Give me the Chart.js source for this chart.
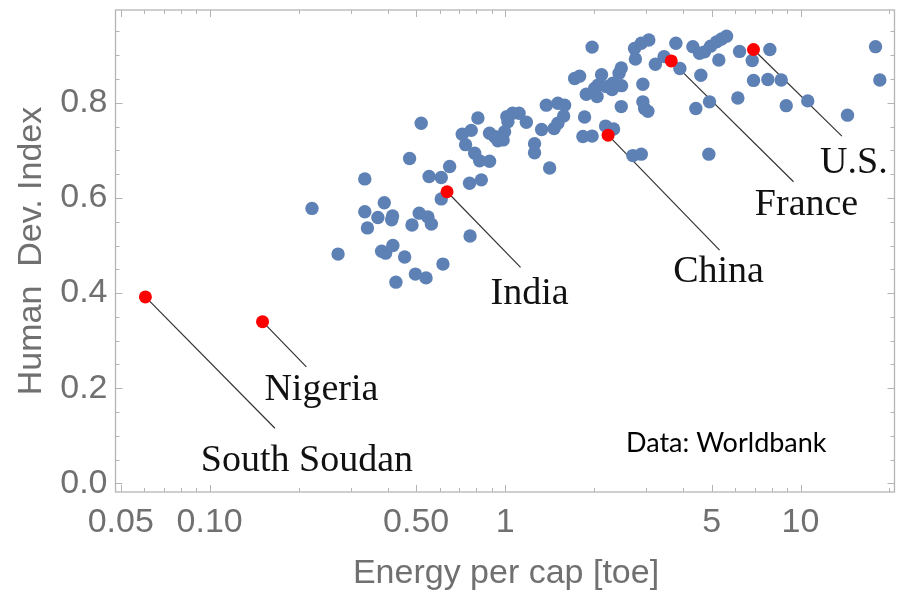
<!DOCTYPE html>
<html>
<head>
<meta charset="utf-8">
<script src="https://cdn.jsdelivr.net/npm/chart.js@4"></script>
<style>
  html, body { margin: 0; padding: 0; background: #fff; }
  canvas { display: block; }
</style>
</head>
<body>
<canvas id="chart" width="897" height="599"></canvas>
<script>
// energy per capita (toe) and HDI, all countries
const energyOthers = [
  0.222, 0.272, 0.335, 0.390, 0.335, 0.371, 0.416, 0.413, 0.342, 0.484,
  0.512, 0.548, 0.563, 0.608, 0.382, 0.394, 0.417, 0.457, 0.427, 0.497,
  0.540, 0.616, 0.475, 0.520, 0.553, 0.608, 0.649, 0.761, 0.716, 0.768,
  0.735, 0.809, 0.789, 0.820, 0.886, 0.758, 0.831, 0.886, 0.921, 0.945,
  0.985, 0.996, 1.022, 1.014, 1.060, 1.115, 1.180, 1.258, 1.258, 1.329,
  1.415, 1.379, 1.509, 1.590, 1.578, 1.509, 1.465, 1.719, 1.787, 1.970,
  2.121, 1.883, 2.009, 2.061, 2.048, 2.200, 2.302, 2.316, 2.473, 2.431,
  2.479, 2.926, 2.473, 2.926, 2.966, 3.043, 1.858, 2.188, 2.329, 1.834,
  1.970, 2.707, 2.890, 2.743, 2.890, 3.065, 2.761, 3.226, 3.452, 3.785,
  3.905, 4.320, 4.552, 4.733, 4.960, 5.196, 5.404, 5.618, 5.290, 4.598,
  6.217, 6.862, 7.873, 6.932, 7.752, 8.603, 6.135, 4.920, 4.422, 8.945,
  10.58, 4.894, 14.42, 17.94, 18.55
];
const hdiOthers = [
  0.578, 0.482, 0.640, 0.590, 0.571, 0.559, 0.562, 0.554, 0.537, 0.543,
  0.568, 0.560, 0.545, 0.598, 0.488, 0.484, 0.500, 0.476, 0.423, 0.440,
  0.432, 0.461, 0.683, 0.757, 0.645, 0.643, 0.666, 0.520, 0.734, 0.742,
  0.712, 0.768, 0.694, 0.678, 0.677, 0.631, 0.638, 0.736, 0.729, 0.720,
  0.722, 0.739, 0.760, 0.771, 0.778, 0.778, 0.759, 0.714, 0.695, 0.744,
  0.663, 0.795, 0.799, 0.795, 0.772, 0.757, 0.746, 0.851, 0.856, 0.917,
  0.859, 0.818, 0.830, 0.837, 0.813, 0.834, 0.828, 0.841, 0.873, 0.862,
  0.836, 0.839, 0.792, 0.802, 0.788, 0.782, 0.770, 0.751, 0.745, 0.729,
  0.730, 0.689, 0.692, 0.914, 0.925, 0.932, 0.892, 0.881, 0.897, 0.925,
  0.872, 0.918, 0.904, 0.907, 0.919, 0.928, 0.934, 0.940, 0.890, 0.858,
  0.908, 0.889, 0.912, 0.847, 0.849, 0.848, 0.810, 0.802, 0.788, 0.794,
  0.804, 0.692, 0.774, 0.918, 0.848
];

// highlighted countries
const countries = ['South Soudan', 'Nigeria', 'India', 'China', 'France', 'U.S.'];
const energyHighlight = [0.0606, 0.151, 0.636, 2.232, 3.651, 6.93];
const hdiHighlight = [0.392, 0.340, 0.613, 0.732, 0.888, 0.912];

const xTickValues = [0.05, 0.1, 0.5, 1, 5, 10];
const xTickLabels = ['0.05', '0.10', '0.50', '1', '5', '10'];
const xMinorValues = [0.06, 0.07, 0.08, 0.09, 0.2, 0.3, 0.4, 0.6, 0.7, 0.8, 0.9, 2, 3, 4, 6, 7, 8, 9, 20];
const yTickValues = [0, 0.2, 0.4, 0.6, 0.8];
const yTickLabels = ['0.0', '0.2', '0.4', '0.6', '0.8'];
const yMinorValues = [0.05, 0.1, 0.15, 0.25, 0.3, 0.35, 0.45, 0.5, 0.55, 0.65, 0.7, 0.75, 0.85, 0.9, 0.95];

// callouts: end of the leader line (data coords) and text offset from it (px)
const callouts = [
  { x: 0.1663, y: 0.116, dx: 32, dy: 43 },
  { x: 0.2125, y: 0.245, dx: 15, dy: 33 },
  { x: 1.128, y: 0.454, dx: 9, dy: 37 },
  { x: 5.32, y: 0.4905, dx: -1, dy: 32 },
  { x: 9.47, y: 0.634, dx: 13, dy: 33 },
  { x: 13.80, y: 0.730, dx: 12, dy: 37 }
];

const GREY = '#707070';
const FRAME = '#b4b4b4';

const toPoints = (xs, ys) => xs.map((v, i) => ({ x: v, y: ys[i] }));

// no automatic label overhang padding, the frame is placed by layout.padding
const noPad = s => { s.paddingTop = 0; s.paddingBottom = 0; s.paddingLeft = 0; s.paddingRight = 0; };

const framePlugin = {
  id: 'frame',
  beforeDatasetsDraw(chart) {
    const { ctx, chartArea: a, scales: { x, y } } = chart;
    ctx.save();
    ctx.strokeStyle = FRAME;
    ctx.lineWidth = 1.3;
    ctx.strokeRect(a.left, a.top, a.right - a.left, a.bottom - a.top);
    const tick = (px, len, vertical) => {
      ctx.beginPath();
      if (vertical) {
        ctx.moveTo(px, a.bottom); ctx.lineTo(px, a.bottom - len);
        ctx.moveTo(px, a.top); ctx.lineTo(px, a.top + len);
      } else {
        ctx.moveTo(a.left, px); ctx.lineTo(a.left + len, px);
        ctx.moveTo(a.right, px); ctx.lineTo(a.right - len, px);
      }
      ctx.stroke();
    };
    ctx.lineWidth = 1;
    xTickValues.forEach(v => tick(Math.round(x.getPixelForValue(v)) + 0.5, 7, true));
    xMinorValues.forEach(v => tick(Math.round(x.getPixelForValue(v)) + 0.5, 4, true));
    yTickValues.forEach(v => tick(Math.round(y.getPixelForValue(v)) + 0.5, 7, false));
    yMinorValues.forEach(v => tick(Math.round(y.getPixelForValue(v)) + 0.5, 4, false));

    // leader lines
    ctx.strokeStyle = '#333';
    ctx.lineWidth = 1.2;
    countries.forEach((name, i) => {
      const c = callouts[i];
      ctx.beginPath();
      ctx.moveTo(x.getPixelForValue(energyHighlight[i]), y.getPixelForValue(hdiHighlight[i]));
      ctx.lineTo(x.getPixelForValue(c.x), y.getPixelForValue(c.y));
      ctx.stroke();
    });
    ctx.restore();
  },
  afterDraw(chart) {
    const { ctx, chartArea: a, scales: { x, y } } = chart;
    ctx.save();
    ctx.fillStyle = '#111';
    ctx.font = '38px "Liberation Serif", serif';
    ctx.textAlign = 'center';
    ctx.textBaseline = 'alphabetic';
    countries.forEach((name, i) => {
      const c = callouts[i];
      ctx.fillText(name, x.getPixelForValue(c.x) + c.dx, y.getPixelForValue(c.y) + c.dy);
    });

    ctx.fillStyle = '#000';
    ctx.font = '27px Lato, "Open Sans", sans-serif';
    ctx.textAlign = 'left';
    ctx.fillText('Data: Worldbank', 626, 452);

    // axis titles
    ctx.fillStyle = GREY;
    ctx.font = '34px "Liberation Sans", Arial, sans-serif';
    ctx.textAlign = 'center';
    ctx.fillText('Energy per cap [toe]', 506, 583);
    ctx.translate(41, (a.top + a.bottom) / 2);
    ctx.rotate(-Math.PI / 2);
    ctx.fillText('Human  Dev. Index', 0, 0);
    ctx.restore();
  }
};

new Chart(document.getElementById('chart'), {
  type: 'scatter',
  data: {
    datasets: [
      {
        label: 'Highlighted',
        data: toPoints(energyHighlight, hdiHighlight),
        backgroundColor: '#ff0000',
        borderWidth: 0,
        pointRadius: 6.5
      },
      {
        label: 'Countries',
        data: toPoints(energyOthers, hdiOthers),
        backgroundColor: 'rgb(94,129,181)',
        borderWidth: 0,
        pointRadius: 6.7
      }
    ]
  },
  options: {
    responsive: false,
    animation: false,
    devicePixelRatio: 1,
    layout: { autoPadding: false, padding: { top: 10, right: 2.5, left: 0, bottom: 0 } },
    plugins: {
      legend: { display: false },
      tooltip: { enabled: false }
    },
    scales: {
      x: {
        type: 'logarithmic',
        min: 0.048,
        max: 20.8,
        grid: { display: false, drawTicks: false },
        border: { display: false },
        afterBuildTicks: s => { s.ticks = xTickValues.map(v => ({ value: v })); },
        afterFit: s => { s.height = 107; noPad(s); },
        ticks: {
          autoSkip: false,
          maxRotation: 0,
          color: GREY,
          padding: 10,
          font: { size: 34, family: '"Liberation Sans", Arial, sans-serif' },
          callback: v => xTickLabels[xTickValues.indexOf(v)]
        }
      },
      y: {
        min: -0.018,
        max: 0.995,
        grid: { display: false, drawTicks: false },
        border: { display: false },
        afterBuildTicks: s => { s.ticks = yTickValues.map(v => ({ value: v })); },
        afterFit: s => { s.width = 115.5; noPad(s); },
        ticks: {
          color: GREY,
          padding: 8,
          font: { size: 34, family: '"Liberation Sans", Arial, sans-serif' },
          callback: v => yTickLabels[yTickValues.indexOf(v)]
        }
      }
    }
  },
  plugins: [framePlugin]
});
</script>
</body>
</html>
